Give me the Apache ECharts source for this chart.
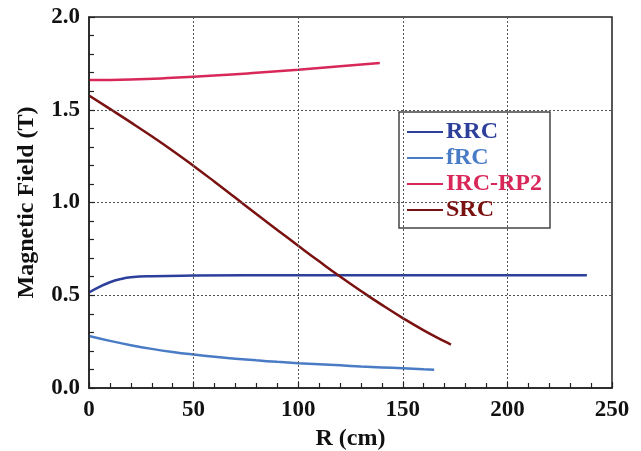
<!DOCTYPE html>
<html>
<head>
<meta charset="utf-8">
<script src="https://cdn.jsdelivr.net/npm/echarts@6/dist/echarts.min.js"></script>
<style>
  html, body { margin: 0; padding: 0; background: #fff; }
  #chart { width: 641px; height: 451px; }
</style>
</head>
<body>
<div id="chart"></div>
<script>
// values, R in cm, field in T
var rrcR = [0, 5, 10, 15, 20, 30, 50, 100, 150, 200, 238];
var rrcB = [0.515, 0.545, 0.570, 0.587, 0.597, 0.603, 0.606, 0.608, 0.608, 0.608, 0.608];

var frcR = [0, 10, 20, 30, 40, 50, 60, 70, 80, 90, 100, 110, 120, 130, 140, 150, 160, 165];
var frcB = [0.280, 0.254, 0.231, 0.211, 0.194, 0.180, 0.168, 0.158, 0.149, 0.141, 0.134, 0.128, 0.122, 0.116, 0.111, 0.106, 0.101, 0.099];

var ircR = [0, 20, 40, 60, 80, 100, 120, 139];
var ircB = [1.660, 1.663, 1.672, 1.684, 1.699, 1.716, 1.735, 1.752];

var srcR = [0, 10, 20, 30, 40, 50, 60, 70, 80, 90, 100, 110, 120, 130, 140, 150, 160, 170, 173];
var srcB = [1.577, 1.505, 1.432, 1.357, 1.279, 1.197, 1.112, 1.025, 0.938, 0.852, 0.767, 0.683, 0.601, 0.523, 0.448, 0.377, 0.311, 0.251, 0.234];

var names = ['RRC', 'fRC', 'IRC-RP2', 'SRC'];
var colors = ['#2c3f9b', '#4a7cc6', '#d8285a', '#7b1212'];

function pairs(xs, ys) {
    return xs.map(function (x, i) { return [x, ys[i]]; });
}

var font = 'Liberation Serif, Times New Roman, serif';
var chart = echarts.init(document.getElementById('chart'));

var lineData = [pairs(rrcR, rrcB), pairs(frcR, frcB), pairs(ircR, ircB), pairs(srcR, srcB)];

chart.setOption({
    animation: false,
    grid: {
        left: 89, right: 29, top: 17, bottom: 63,
        outerBoundsMode: 'none',
        show: true, borderColor: '#222', borderWidth: 1.5
    },
    legend: {
        orient: 'vertical',
        left: 399, top: 112,
        backgroundColor: '#fff',
        borderColor: '#444', borderWidth: 1.5,
        padding: [8, 8, 6, 8],
        itemWidth: 36, itemHeight: 2, itemGap: 2,
        icon: 'rect',
        data: names.map(function (n, i) {
            return { name: n, textStyle: { color: colors[i] } };
        }),
        textStyle: { fontFamily: font, fontWeight: 'bold', fontSize: 24, lineHeight: 24, padding: [0, 0, 0, -2] }
    },
    xAxis: {
        type: 'value', min: 0, max: 250, interval: 50,
        name: 'R (cm)', nameLocation: 'middle', nameGap: 31,
        nameTextStyle: { fontFamily: font, fontWeight: 'bold', fontSize: 24, color: '#111' },
        axisLine: { lineStyle: { color: '#222', width: 1.5 } },
        axisTick: { show: true, inside: true, length: 6, lineStyle: { color: '#222', width: 1.2 } },
        minorTick: { show: true, splitNumber: 5, length: 5, lineStyle: { color: '#222', width: 1.2 } },
        axisLabel: { fontFamily: font, fontWeight: 'bold', fontSize: 23, color: '#111', margin: 11 },
        splitLine: { show: true, lineStyle: { color: '#555', type: [2, 2], width: 1 } },
        z: 4
    },
    yAxis: {
        type: 'value', min: 0, max: 2, interval: 0.5,
        name: 'Magnetic Field (T)', nameLocation: 'middle', nameGap: 50,
        nameTextStyle: { fontFamily: font, fontWeight: 'bold', fontSize: 24, color: '#111' },
        axisLine: { show: true, lineStyle: { color: '#222', width: 1.5 } },
        axisTick: { show: true, inside: true, length: 6, lineStyle: { color: '#222', width: 1.2 } },
        minorTick: { show: true, splitNumber: 5, length: 5, lineStyle: { color: '#222', width: 1.2 } },
        axisLabel: {
            fontFamily: font, fontWeight: 'bold', fontSize: 23, color: '#111', margin: 9,
            formatter: function (v) { return v.toFixed(1); }
        },
        splitLine: { show: true, lineStyle: { color: '#555', type: [2, 2], width: 1 } },
        z: 4
    },
    series: names.map(function (n, i) {
        return {
            name: n, type: 'line', data: lineData[i],
            smooth: true, showSymbol: false, symbol: 'none',
            lineStyle: { color: colors[i], width: 2.5 },
            itemStyle: { color: colors[i] },
            z: 3
        };
    })
});
</script>
</body>
</html>
